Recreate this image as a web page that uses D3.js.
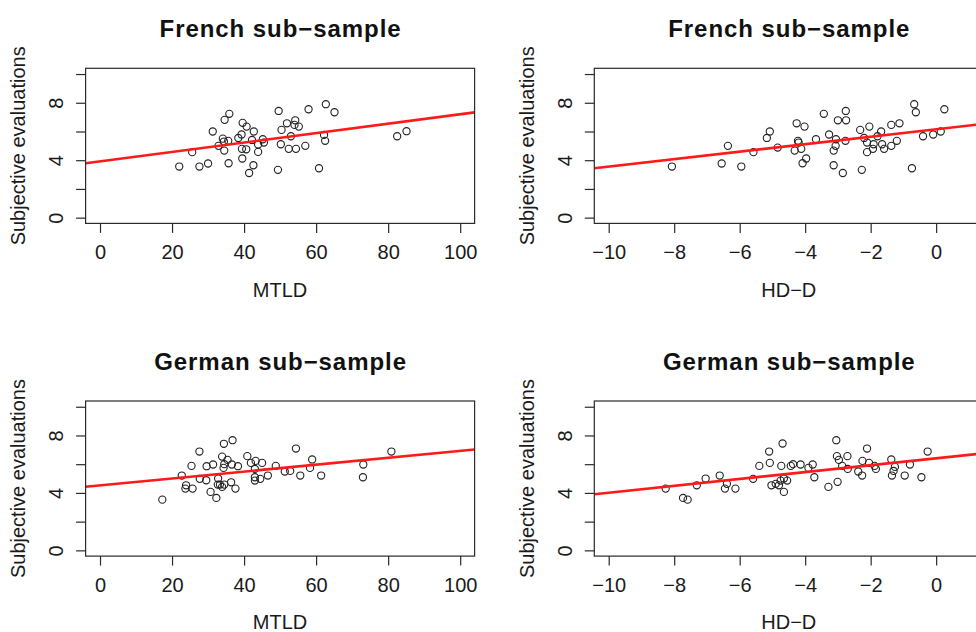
<!DOCTYPE html>
<html>
<head>
<meta charset="utf-8">
<script src="https://cdn.jsdelivr.net/npm/d3@7"></script>
<style>
  html, body { margin: 0; padding: 0; background: #fff; }
  svg { display: block; font-family: "Liberation Sans", Arial, Helvetica, sans-serif; }
</style>
</head>
<body>
<svg id="chart" width="976" height="632"></svg>
<script>
// ---- Data ----
const titles = ["French sub−sample", "French sub−sample", "German sub−sample", "German sub−sample"];
const xLabels = ["MTLD", "HD−D", "MTLD", "HD−D"];
const yLabel = "Subjective evaluations";

const mtldLimits = [0, 100];
const hddLimits = [-10, 1];
const yLimits = [0, 10];
const mtldTicks = [0, 20, 40, 60, 80, 100];
const hddTicks = [-10, -8, -6, -4, -2, 0];
const yTicks = [0, 2, 4, 6, 8, 10];
const yTickLabels = [0, 4, 8];

// French: MTLD vs evaluation
const frenchMTLD = [22.0, 25.6, 27.6, 30.0, 31.3, 32.9, 34.1, 34.5, 34.4, 35.6, 34.6, 35.9, 35.7, 38.4, 39.3, 39.6,
  40.7, 39.4, 39.5, 40.6, 41.4, 42.6, 42.7, 42.2, 43.9, 43.9, 45.2, 45.5, 49.6, 49.4, 50.4, 50.2, 51.9, 52.4, 53.0,
  54.2, 54.0, 55.2, 54.4, 57.0, 57.9, 60.8, 62.2, 62.5, 62.7, 65.1, 82.5, 85.1];
const frenchEvalA = [3.56, 4.56, 3.56, 3.77, 6.00, 5.00, 5.50, 4.67, 5.30, 5.35, 6.81, 7.23, 3.79, 5.55, 5.79, 6.60,
  6.34, 4.79, 4.12, 4.76, 3.11, 3.65, 6.00, 5.41, 5.09, 4.58, 5.46, 5.23, 7.43, 3.33, 6.11, 5.11, 6.57, 4.79, 5.67,
  6.78, 6.46, 6.34, 4.79, 5.00, 7.55, 3.44, 5.76, 5.35, 7.90, 7.34, 5.67, 6.02];

// French: HD-D vs evaluation
const frenchHDD = [-8.07, -6.55, -6.36, -5.95, -5.58, -5.17, -5.08, -4.84, -4.32, -4.26, -4.22, -4.20, -4.12, -4.08,
  -4.02, -3.97, -3.67, -3.43, -3.27, -3.13, -3.13, -3.07, -3.06, -3.00, -2.85, -2.76, -2.75, -2.77, -2.32, -2.27,
  -2.20, -2.11, -2.11, -2.04, -1.93, -1.91, -1.79, -1.68, -1.65, -1.59, -1.37, -1.37, -1.20, -1.12, -0.74, -0.67,
  -0.62, -0.40, -0.09, 0.14, 0.25];
const frenchEvalB = [3.56, 3.77, 5.00, 3.56, 4.56, 5.55, 6.00, 4.88, 4.67, 6.57, 5.35, 5.23, 4.79, 3.79, 6.34, 4.12,
  5.46, 7.23, 5.79, 4.67, 3.65, 5.00, 5.46, 6.78, 3.11, 7.43, 6.78, 5.35, 6.11, 3.33, 5.55, 5.23, 4.56, 6.34, 4.79,
  5.11, 5.67, 6.00, 5.11, 4.79, 5.00, 6.46, 5.35, 6.57, 3.44, 7.90, 7.34, 5.67, 5.79, 6.00, 7.55];

// German: MTLD vs evaluation
const germanMTLD = [17.3, 22.7, 23.9, 23.7, 25.7, 25.4, 27.6, 27.7, 29.5, 29.6, 31.4, 30.7, 32.3, 32.8, 32.7, 33.3,
  33.9, 34.5, 33.9, 34.4, 34.5, 34.3, 35.4, 36.4, 36.6, 36.8, 37.6, 38.3, 40.9, 41.9, 43.0, 43.2, 43.0, 43.0, 44.5,
  45.0, 46.6, 48.8, 51.3, 52.8, 54.4, 55.6, 58.3, 58.9, 61.4, 73.0, 73.1, 80.9];
const germanEvalA = [3.53, 5.21, 4.53, 4.30, 4.30, 5.88, 6.88, 4.98, 4.88, 5.86, 5.98, 4.07, 3.65, 5.00, 4.58, 4.58,
  4.42, 4.58, 6.53, 7.42, 6.00, 5.74, 6.30, 4.74, 5.98, 7.67, 4.30, 5.86, 6.56, 6.09, 5.67, 6.23, 5.09, 4.86, 4.98,
  6.09, 5.21, 5.88, 5.49, 5.53, 7.09, 5.21, 5.74, 6.33, 5.21, 5.09, 5.98, 6.88];

// German: HD-D vs evaluation
const germanHDD = [-8.26, -7.73, -7.59, -7.31, -7.04, -6.61, -6.45, -6.39, -6.13, -5.59, -5.40, -5.10, -5.08, -5.03,
  -4.90, -4.80, -4.75, -4.73, -4.69, -4.65, -4.65, -4.55, -4.44, -4.37, -4.14, -3.90, -3.77, -3.72, -3.29, -3.05,
  -3.03, -3.01, -2.97, -2.87, -2.71, -2.70, -2.38, -2.26, -2.25, -2.11, -2.05, -1.88, -1.84, -1.37, -1.35, -1.30,
  -1.26, -0.96, -0.80, -0.45, -0.26];
const germanEvalB = [4.30, 3.65, 3.53, 4.53, 5.00, 5.21, 4.30, 4.63, 4.30, 4.98, 5.88, 6.88, 6.09, 4.53, 4.63, 4.53,
  4.86, 5.88, 7.44, 4.07, 5.00, 4.86, 5.88, 6.00, 5.98, 5.74, 5.98, 5.09, 4.42, 7.67, 6.56, 4.77, 6.30, 5.88, 6.56,
  5.67, 5.49, 5.21, 6.23, 7.09, 6.09, 5.88, 5.67, 6.33, 5.21, 5.53, 5.81, 5.21, 5.98, 5.09, 6.88];

// Fitted regression lines: [intercept, slope]
const fitIntercepts = [3.92, 6.15, 4.52, 6.41];
const fitSlopes = [0.0328, 0.259, 0.0241, 0.240];

// ---- Layout ----
const colLefts = [85.6, 594.3];
const rowTops = [68.3, 401.0];
const plotW = 389;
const plotH = 155.1;

const panels = [
  { xs: frenchMTLD, ys: frenchEvalA, lim: mtldLimits, ticks: mtldTicks, col: 0, row: 0 },
  { xs: frenchHDD, ys: frenchEvalB, lim: hddLimits, ticks: hddTicks, col: 1, row: 0 },
  { xs: germanMTLD, ys: germanEvalA, lim: mtldLimits, ticks: mtldTicks, col: 0, row: 1 },
  { xs: germanHDD, ys: germanEvalB, lim: hddLimits, ticks: hddTicks, col: 1, row: 1 }
];

const svg = d3.select("#chart");
const ink = "#1a1a1a";
const ext = (lim) => { const d = (lim[1] - lim[0]) * 0.04; return [lim[0] - d, lim[1] + d]; };
const fmt = (v) => (v < 0 ? "\u2212" + Math.abs(v) : String(v));

// title letter spacing: widen the bold title so "French sub−sample" spans ~242px as in the reference
let titleSpacing = 0;
{
  const probe = svg.append("text").attr("font-size", 24).attr("font-weight", "bold").text(titles[0]);
  const w0 = probe.node().getComputedTextLength();
  if (w0 > 0 && w0 < 242) titleSpacing = (242 - w0) / titles[0].length;
  probe.remove();
}

panels.forEach((p, i) => {
  const left = colLefts[p.col], top = rowTops[p.row];
  const x = d3.scaleLinear().domain(ext(p.lim)).range([left, left + plotW]);
  const y = d3.scaleLinear().domain(ext(yLimits)).range([top + plotH, top]);
  const g = svg.append("g");

  const clipId = "clip" + i;
  g.append("clipPath").attr("id", clipId).append("rect")
    .attr("x", left).attr("y", top).attr("width", plotW).attr("height", plotH);

  // points
  g.append("g").selectAll("circle").data(p.xs.map((v, k) => [v, p.ys[k]])).join("circle")
    .attr("cx", d => x(d[0])).attr("cy", d => y(d[1])).attr("r", 3.6)
    .attr("fill", "none").attr("stroke", "#222").attr("stroke-width", 1.1);

  // regression line (abline)
  const dom = x.domain();
  const lineData = dom.map(v => [v, fitIntercepts[i] + fitSlopes[i] * v]);
  g.append("path").attr("clip-path", `url(#${clipId})`)
    .attr("d", d3.line().x(d => x(d[0])).y(d => y(d[1]))(lineData))
    .attr("fill", "none").attr("stroke", "#ff1a1a").attr("stroke-width", 2.6);

  // box
  g.append("rect").attr("x", left).attr("y", top).attr("width", plotW).attr("height", plotH)
    .attr("fill", "none").attr("stroke", "#2a2a2a").attr("stroke-width", 1.2);

  // x axis
  const xa = g.append("g").attr("transform", `translate(0,${top + plotH})`)
    .call(d3.axisBottom(x).tickValues(p.ticks).tickSize(9.5).tickSizeOuter(0).tickPadding(5).tickFormat(fmt));
  xa.select(".domain").remove();
  xa.selectAll("line").attr("stroke", "#2a2a2a").attr("stroke-width", 1.2);
  xa.selectAll("text").attr("fill", ink).attr("font-size", 20).attr("font-family", null)
    .attr("dy", null).attr("y", 35.6);

  // y axis
  const ya = g.append("g").attr("transform", `translate(${left},0)`)
    .call(d3.axisLeft(y).tickValues(yTicks).tickSize(9.5).tickSizeOuter(0)
      .tickFormat(v => yTickLabels.includes(v) ? fmt(v) : ""));
  ya.select(".domain").remove();
  ya.selectAll("line").attr("stroke", "#2a2a2a").attr("stroke-width", 1.2);
  ya.selectAll("text").attr("fill", ink).attr("font-size", 20).attr("font-family", null)
    .attr("x", null).attr("dy", null).attr("text-anchor", "middle")
    .attr("transform", "translate(-22.5,0) rotate(-90)");

  const cx = left + plotW / 2;
  // title
  g.append("text").attr("x", cx + titleSpacing / 2).attr("y", top - 31).attr("text-anchor", "middle")
    .attr("font-size", 24).attr("font-weight", "bold").attr("fill", "#111")
    .attr("letter-spacing", titleSpacing.toFixed(2)).text(titles[i]);
  // x label
  g.append("text").attr("x", cx).attr("y", top + plotH + 73.3).attr("text-anchor", "middle")
    .attr("font-size", 20).attr("fill", ink).text(xLabels[i]);
  // y label
  g.append("text").attr("transform", `translate(${left - 60.5},${top + plotH / 2}) rotate(-90)`)
    .attr("text-anchor", "middle").attr("font-size", 20).attr("fill", ink).text(yLabel);
});
</script>
</body>
</html>
